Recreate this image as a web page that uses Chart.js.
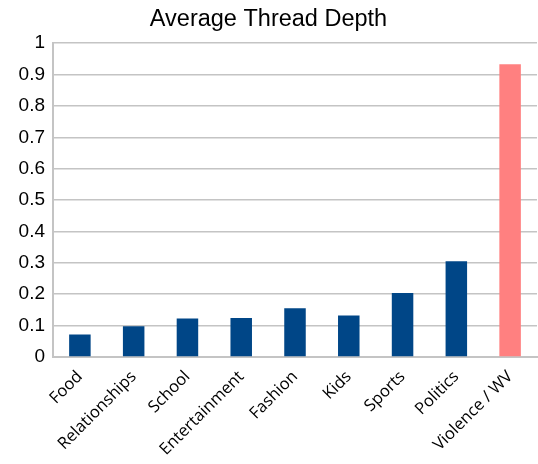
<!DOCTYPE html>
<html>
<head>
<meta charset="utf-8">
<script src="https://cdn.jsdelivr.net/npm/chart.js@4"></script>
<style>
  html, body { margin: 0; padding: 0; background: #fff; }
  #wrap { width: 538px; height: 464px; }
</style>
</head>
<body>
<div id="wrap"><canvas id="chart"></canvas></div>
<script>
const categories = ['Food', 'Relationships', 'School', 'Entertainment', 'Fashion', 'Kids', 'Sports', 'Politics', 'Violence / WV'];
const depth = [0.072, 0.098, 0.123, 0.124, 0.155, 0.132, 0.204, 0.305, 0.933];
const barColors = ['#004687', '#004687', '#004687', '#004687', '#004687', '#004687', '#004687', '#004687', '#ff8080'];

const gridGrey = '#c4c4c4';

const ctx = document.getElementById('chart').getContext('2d');
const chart = new Chart(ctx, {
    type: 'bar',
    data: {
        labels: categories,
        datasets: [{
            data: depth,
            backgroundColor: barColors,
            barPercentage: 0.4,
            categoryPercentage: 1
        }]
    },
    options: {
        responsive: true,
        maintainAspectRatio: false,
        animation: false,
        layout: { padding: { left: 0, right: 1, top: 0, bottom: 0 } },
        plugins: {
            legend: { display: false },
            tooltip: { enabled: false },
            title: {
                display: true,
                text: 'Average Thread Depth',
                color: '#000',
                font: { family: 'Liberation Sans', size: 23.5, weight: 'normal', lineHeight: 1.2 },
                padding: { top: 5, bottom: 10 }
            }
        },
        scales: {
            x: {
                offset: true,
                grid: {
                    offset: true,
                    drawTicks: false,
                    lineWidth: 2,
                    color: (c) => (c.index === categories.length ? gridGrey : 'rgba(0,0,0,0)')
                },
                border: { display: true, color: gridGrey, width: 2 },
                ticks: {
                    color: '#000',
                    font: { family: 'Open Sans', size: 16.5 },
                    maxRotation: 45,
                    minRotation: 45,
                    padding: 10,
                    autoSkip: false
                },
                afterFit: (scale) => { scale.height = 107; }
            },
            y: {
                min: 0,
                max: 1,
                ticks: {
                    stepSize: 0.1,
                    color: '#000',
                    font: { family: 'Liberation Sans', size: 19 },
                    padding: 8,
                    callback: (v) => String(Math.round(v * 10) / 10)
                },
                grid: { color: gridGrey, lineWidth: 1.5, drawTicks: false },
                border: { display: true, color: gridGrey, width: 2 },
                afterFit: (scale) => { scale.width = 53; }
            }
        }
    }
});
</script>
</body>
</html>
